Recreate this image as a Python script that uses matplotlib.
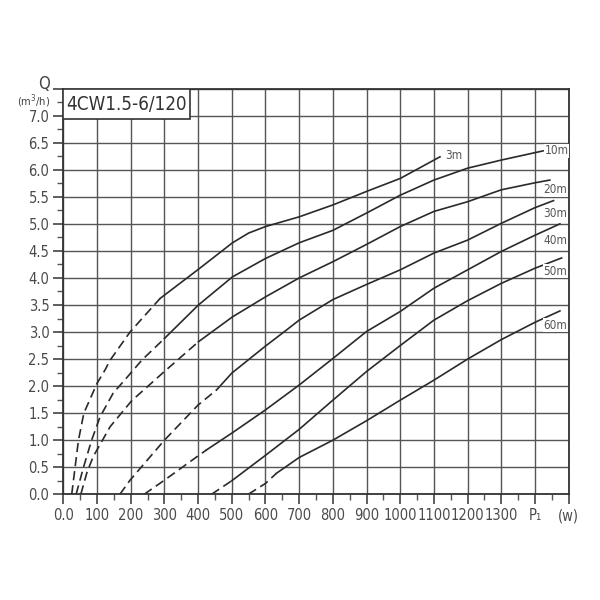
import numpy as np
import matplotlib
matplotlib.use('Agg')
import matplotlib.pyplot as plt
from matplotlib.patches import Rectangle
from matplotlib.ticker import MultipleLocator

# values: P1 (W) against Q (m3/h), one curve per head
heads = ['3m', '10m', '20m', '30m', '40m', '50m', '60m']

p_3m = [25, 35, 45, 61, 100, 124, 139, 198, 287, 401, 502, 550, 600, 700, 800, 900, 1000, 1118]
q_3m = [0, 0.5, 1.0, 1.5, 2.05, 2.3, 2.48, 3.0, 3.62, 4.16, 4.65, 4.83, 4.95, 5.13, 5.35, 5.6, 5.84, 6.24]

p_10m = [38, 60, 84, 109, 148, 200, 233, 300, 401, 502, 600, 700, 800, 900, 1000, 1100, 1200, 1300, 1424]
q_10m = [0, 0.5, 1.0, 1.43, 1.87, 2.24, 2.48, 2.88, 3.5, 4.02, 4.36, 4.65, 4.88, 5.2, 5.53, 5.81, 6.03, 6.18, 6.35]

p_20m = [52, 70, 89, 139, 203, 300, 401, 502, 600, 700, 800, 900, 1000, 1100, 1200, 1300, 1400, 1444]
q_20m = [0, 0.4, 0.7, 1.25, 1.73, 2.27, 2.82, 3.28, 3.65, 4.0, 4.3, 4.62, 4.95, 5.23, 5.41, 5.63, 5.76, 5.81]

p_30m = [168, 198, 300, 400, 455, 500, 600, 663, 700, 800, 900, 1000, 1100, 1200, 1300, 1400, 1455]
q_30m = [0, 0.26, 1.0, 1.65, 1.93, 2.24, 2.74, 3.04, 3.22, 3.6, 3.88, 4.15, 4.46, 4.7, 5.01, 5.3, 5.43]

p_40m = [240, 300, 400, 425, 500, 600, 700, 800, 900, 1000, 1100, 1200, 1300, 1400, 1474]
q_40m = [0, 0.26, 0.71, 0.82, 1.13, 1.56, 2.02, 2.51, 3.01, 3.38, 3.81, 4.15, 4.49, 4.79, 5.0]

p_50m = [440, 500, 600, 700, 800, 900, 1000, 1100, 1200, 1300, 1400, 1479]
q_50m = [0, 0.25, 0.72, 1.2, 1.74, 2.27, 2.75, 3.22, 3.58, 3.9, 4.18, 4.37]

p_60m = [549, 600, 633, 700, 800, 900, 1000, 1100, 1200, 1300, 1400, 1474]
q_60m = [0, 0.2, 0.39, 0.68, 1.0, 1.36, 1.74, 2.11, 2.5, 2.86, 3.18, 3.39]

# last point of the dashed part of each curve
dash_end = [8, 7, 6, 4, 3, 1, 2]

curves = [(p_3m, q_3m), (p_10m, q_10m), (p_20m, q_20m), (p_30m, q_30m),
          (p_40m, q_40m), (p_50m, q_50m), (p_60m, q_60m)]

# where the head labels sit
label_pos = [(1133, 6.27), (1428, 6.35), (1425, 5.63), (1425, 5.2),
             (1425, 4.7), (1425, 4.12), (1425, 3.13)]

x_ticks = list(range(0, 1600, 100))
x_labels = ['0.0'] + [str(v) for v in range(100, 1400, 100)] + ['P\u2081', '(w)']
y_ticks = [i * 0.5 for i in range(16)]
y_labels = ['%.1f' % v for v in y_ticks[:-1]] + ['']

plt.rcParams['font.family'] = ['DejaVu Sans']
plt.rcParams['font.stretch'] = 'condensed'

fig = plt.figure(figsize=(6, 6), dpi=100)
ax = fig.add_axes([0.1055, 0.1762, 0.8423, 0.676])

ax.set_xlim(0, 1500)
ax.set_ylim(0, 7.5)
ax.set_xticks(x_ticks)
ax.set_xticklabels(x_labels)
ax.set_yticks(y_ticks)
ax.set_yticklabels(y_labels)
ax.xaxis.set_minor_locator(MultipleLocator(50))
ax.yaxis.set_minor_locator(MultipleLocator(0.25))
ax.tick_params(which='major', direction='out', length=7, width=1.1, color='#333333',
               labelsize=10.5, labelcolor='#4a4a4a', pad=3)
ax.tick_params(which='minor', direction='out', length=4, width=1, color='#555555')
ax.grid(True, which='major', color='#555555', lw=1.0)
ax.set_axisbelow(True)
for s in ax.spines.values():
    s.set_color('#333333')
    s.set_linewidth(1.3)

for (p, q), k in zip(curves, dash_end):
    ax.plot(p[:k + 1], q[:k + 1], color='#2a2a2a', lw=1.2, ls=(0, (5.5, 3)))
    ax.plot(p[k:], q[k:], color='#2a2a2a', lw=1.2)

for name, (lx, ly) in zip(heads, label_pos):
    ax.text(lx, ly, name, fontsize=8.5, color='#555555', va='center', ha='left',
            bbox=dict(fc='white', ec='none', pad=0.3))

# model box in the corner
ax.add_patch(Rectangle((0, 6.94), 377, 0.56, fc='white', ec='#333333', lw=1.2, zorder=3))
ax.text(188, 7.21, '4CW1.5-6/120', fontsize=13.5, color='#333333', va='center', ha='center', zorder=4)

ax.text(-0.038, 0.99, 'Q', transform=ax.transAxes, fontsize=12, color='#444444',
        ha='center', va='bottom')
ax.text(-0.058, 0.97, '(m$^3$/h)', transform=ax.transAxes, fontsize=8, color='#444444',
        ha='center', va='center')

fig.savefig('out.png', dpi=100, facecolor='white')
